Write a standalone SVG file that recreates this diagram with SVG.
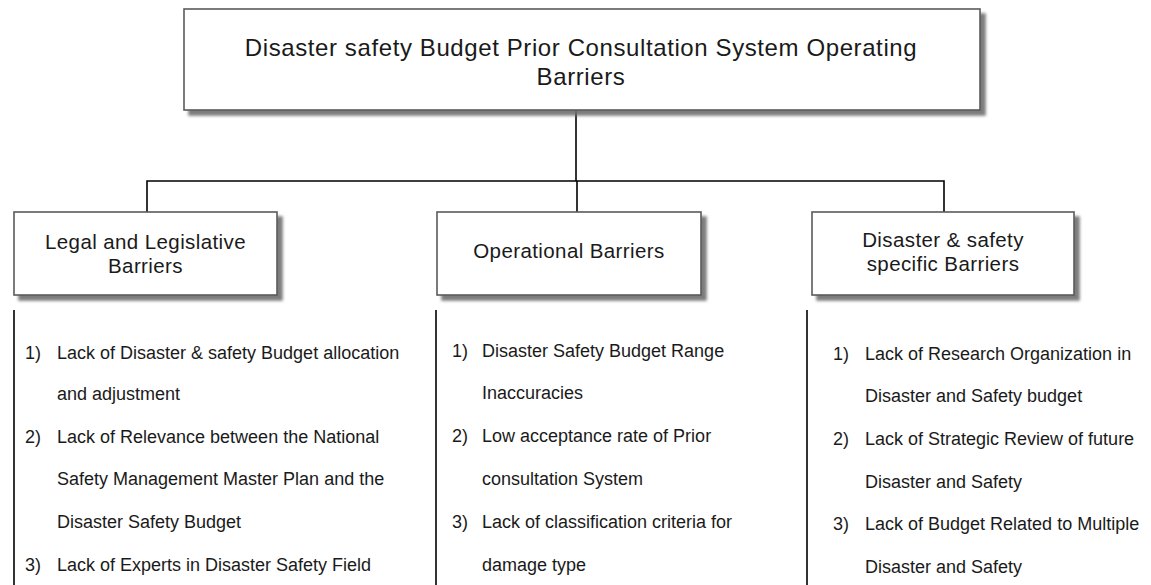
<svg xmlns="http://www.w3.org/2000/svg" width="1151" height="585" viewBox="0 0 1151 585">
  <defs>
    <filter id="shadow" x="-5%" y="-10%" width="115%" height="130%">
      <feDropShadow dx="5" dy="5" stdDeviation="1.6" flood-color="#6e6e6e" flood-opacity="0.9"/>
    </filter>
    <style>
      .box { fill: #ffffff; stroke: #5a5a5a; stroke-width: 1.6; filter: url(#shadow); }
      .conn { fill: none; stroke: #000000; stroke-width: 1.6; }
      .title { font-family: "Liberation Sans", Arial, sans-serif; font-size: 24px; letter-spacing: 0.6px; fill: #1a1a1a; text-anchor: middle; }
      .head { font-family: "Liberation Sans", Arial, sans-serif; font-size: 20.5px; letter-spacing: 0.4px; fill: #1a1a1a; text-anchor: middle; }
      .item { font-family: "Liberation Sans", Arial, sans-serif; font-size: 18px; fill: #1a1a1a; }
      .rule { stroke: #000000; stroke-width: 1.6; }
    </style>
  </defs>
  <rect width="1151" height="585" fill="#ffffff"/>

  <!-- tree connectors -->
  <g id="connectors">
    <path class="conn" d="M576,110 V181"/>
    <path class="conn" d="M147,212 V181 H944 V212"/>
    <path class="conn" d="M577,181 V212"/>
  </g>

  <!-- root -->
  <g id="root">
    <rect class="box" x="184" y="9" width="796" height="101"/>
    <text class="title" x="581" y="56">Disaster safety Budget Prior Consultation System Operating</text>
    <text class="title" x="581" y="84.5">Barriers</text>
  </g>

  <!-- category: legal -->
  <g id="legal">
    <rect class="box" x="14" y="212" width="263" height="83"/>
    <text class="head" x="145.5" y="249">Legal and Legislative</text>
    <text class="head" x="145.5" y="273">Barriers</text>
  </g>

  <!-- category: operational -->
  <g id="operational">
    <rect class="box" x="437" y="212" width="264" height="83"/>
    <text class="head" x="569" y="258">Operational Barriers</text>
  </g>

  <!-- category: disaster & safety specific -->
  <g id="specific">
    <rect class="box" x="812" y="212" width="262" height="83"/>
    <text class="head" x="943" y="247">Disaster &amp; safety</text>
    <text class="head" x="943" y="271">specific Barriers</text>
  </g>

  <!-- legal list -->
  <g id="legal-list">
    <line class="rule" x1="14" y1="310" x2="14" y2="585"/>
    <text class="item" x="25" y="359">1)</text>
    <text class="item" x="57" y="359">Lack of Disaster &amp; safety Budget allocation</text>
    <text class="item" x="57" y="400">and adjustment</text>
    <text class="item" x="25" y="443">2)</text>
    <text class="item" x="57" y="443">Lack of Relevance between the National</text>
    <text class="item" x="57" y="485">Safety Management Master Plan and the</text>
    <text class="item" x="57" y="528">Disaster Safety Budget</text>
    <text class="item" x="25" y="571">3)</text>
    <text class="item" x="57" y="571">Lack of Experts in Disaster Safety Field</text>
  </g>

  <!-- operational list -->
  <g id="operational-list">
    <line class="rule" x1="436" y1="310" x2="436" y2="585"/>
    <text class="item" x="452" y="357">1)</text>
    <text class="item" x="482" y="357">Disaster Safety Budget Range</text>
    <text class="item" x="482" y="399">Inaccuracies</text>
    <text class="item" x="452" y="442">2)</text>
    <text class="item" x="482" y="442">Low acceptance rate of Prior</text>
    <text class="item" x="482" y="485">consultation System</text>
    <text class="item" x="452" y="528">3)</text>
    <text class="item" x="482" y="528">Lack of classification criteria for</text>
    <text class="item" x="482" y="571">damage type</text>
  </g>

  <!-- specific list -->
  <g id="specific-list">
    <line class="rule" x1="807" y1="310" x2="807" y2="585"/>
    <text class="item" x="833" y="360">1)</text>
    <text class="item" x="865" y="360">Lack of Research Organization in</text>
    <text class="item" x="865" y="402">Disaster and Safety budget</text>
    <text class="item" x="833" y="445">2)</text>
    <text class="item" x="865" y="445">Lack of Strategic Review of future</text>
    <text class="item" x="865" y="488">Disaster and Safety</text>
    <text class="item" x="833" y="530">3)</text>
    <text class="item" x="865" y="530">Lack of Budget Related to Multiple</text>
    <text class="item" x="865" y="573">Disaster and Safety</text>
  </g>
</svg>
